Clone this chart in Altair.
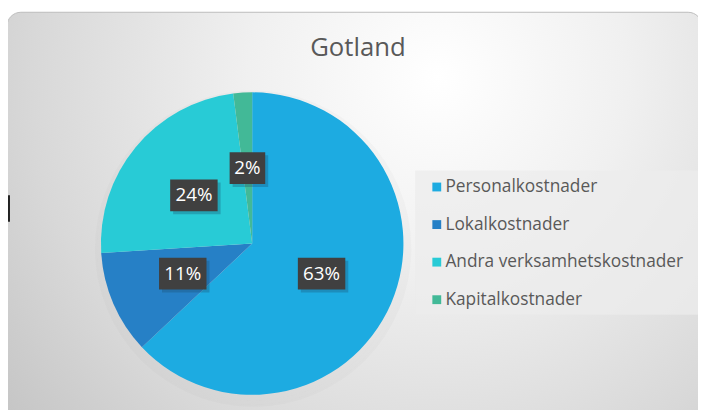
import altair as alt
import pandas as pd

categories = ["Personalkostnader", "Lokalkostnader", "Andra verksamhetskostnader", "Kapitalkostnader"]
shares = [63, 11, 24, 2]
labels = ["63%", "11%", "24%", "2%"]
colors = ["#1DABE1", "#2680C6", "#28CBD6", "#42B997"]

df = pd.DataFrame({"cat": categories, "val": shares, "lab": labels, "order": list(range(len(categories)))})

W, H = 698, 402
CX, CY, R = 247, 236, 153
FONT = "Open Sans"

# background card with radial gradient
card = alt.Chart(pd.DataFrame({"k": [0]})).mark_rect(
    cornerRadius=14,
    stroke="#bdbdbd",
    strokeWidth=1,
    color=alt.RadialGradient(
        gradient="radial",
        stops=[
            alt.GradientStop(offset=0, color="#ffffff"),
            alt.GradientStop(offset=0.35, color="#f0f0f0"),
            alt.GradientStop(offset=0.75, color="#d8d8d8"),
            alt.GradientStop(offset=1, color="#c6c6c6"),
        ],
        x1=0.62, y1=0.3, r1=0,
        x2=0.62, y2=0.3, r2=0.78,
    ),
).encode(x=alt.value(-1), x2=alt.value(W + 4), y=alt.value(2), y2=alt.value(H + 12))

edge_mark = alt.Chart(pd.DataFrame({"k": [0]})).mark_rule(color="#222222", strokeWidth=2).encode(
    x=alt.value(1), y=alt.value(187), y2=alt.value(214)
)

legend_panel = alt.Chart(pd.DataFrame({"k": [0]})).mark_rect(color="#ececec", opacity=0.75).encode(
    x=alt.value(412), x2=alt.value(W + 2), y=alt.value(162), y2=alt.value(308)
)

title = alt.Chart(pd.DataFrame({"t": ["Gotland"]})).mark_text(
    font=FONT, fontSize=26, color="#595959", align="center", baseline="middle"
).encode(text="t:N", x=alt.value(354), y=alt.value(38))

base = alt.Chart(df)

shadow = alt.Chart(pd.DataFrame({"k": [1, 2, 3]})).mark_arc(color="#8a8a8a").encode(
    theta=alt.value(6.2832),
    radius=alt.Radius("k:Q", scale=alt.Scale(domain=[1, 3], range=[R + 5, R + 1], type="linear", zero=False)),
    opacity=alt.value(0.045),
    x=alt.value(CX + 1), y=alt.value(CY + 5),
)

pie = base.mark_arc(radius=R, strokeWidth=0).encode(
    theta=alt.Theta("val:Q", stack=True),
    color=alt.Color(
        "cat:N",
        sort=categories,
        scale=alt.Scale(domain=categories, range=colors),
        legend=alt.Legend(
            title=None,
            orient="none",
            legendX=425,
            legendY=170,
            symbolType="square",
            symbolSize=80,
            symbolStrokeWidth=0,
            labelFont=FONT,
            labelFontSize=17.5,
            labelColor="#595959",
            labelOffset=0,
            labelLimit=0,
            rowPadding=19,
        ),
    ),
    order=alt.Order("order:Q"),
    x=alt.value(CX), y=alt.value(CY),
)

calc = base.transform_window(
    cum="sum(val)", sort=[alt.SortField("order")]
).transform_joinaggregate(total="sum(val)").transform_calculate(
    ang="2*PI*(datum.cum - datum.val/2)/datum.total",
    px=f"{CX} + {R/2} * sin(datum.ang)",
    py=f"{CY} - {R/2} * cos(datum.ang)",
    hw="length(datum.lab) * 6 + 6",
    bx1="datum.px - datum.hw",
    bx2="datum.px + datum.hw",
    by1="datum.py - 16",
    by2="datum.py + 16",
    sx1="datum.bx1 + 3",
    sx2="datum.bx2 + 3",
    sy1="datum.by1 + 3",
    sy2="datum.by2 + 3",
)

box_shadow = calc.mark_rect(color="#1a4a66", opacity=0.3).encode(
    x=alt.X("sx1:Q", scale=None), x2="sx2:Q",
    y=alt.Y("sy1:Q", scale=None), y2="sy2:Q",
)
box = calc.mark_rect(color="#404040").encode(
    x=alt.X("bx1:Q", scale=None), x2="bx2:Q",
    y=alt.Y("by1:Q", scale=None), y2="by2:Q",
)
txt = calc.mark_text(font=FONT, fontSize=19, color="#ffffff", align="center", baseline="middle").encode(
    x=alt.X("px:Q", scale=None), y=alt.Y("py:Q", scale=None), text="lab:N"
)

chart = alt.layer(card, edge_mark, legend_panel, title, shadow, pie, box_shadow, box, txt).properties(
    width=W, height=H, autosize=alt.AutoSizeParams(type="none"), padding=0, background="#ffffff"
).configure_view(stroke=None)

chart.save("out.html", embed_options={"renderer": "svg", "actions": False})
